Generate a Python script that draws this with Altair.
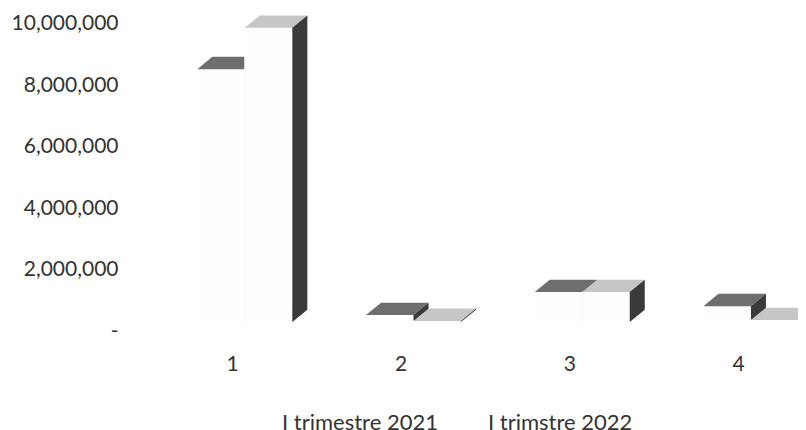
import altair as alt
import pandas as pd

categories = [1, 2, 3, 4]
series_names = ["I trimestre 2021", "I trimstre 2022"]
values_2021 = [8530000, 520000, 1270000, 810000]
values_2022 = [9880000, 330000, 1270000, 360000]
tick_values = [0, 2000000, 4000000, 6000000, 8000000, 10000000]

FLOOR = 290000      # drawn floor of the 3D box on the value axis
DEPTH_Y = 400000    # oblique depth, value units
DEPTH_X = 0.089     # oblique depth, category units
BAR_W = 0.2816
SHIFT = 0.076

FONT = "Lato"
FS = 21
TEXT = "#333333"

fronts, tops, sides = [], [], []
for s, (name, vals) in enumerate(zip(series_names, [values_2021, values_2022])):
    for c, v in zip(categories, vals):
        left = c + SHIFT + (s - 1) * BAR_W
        right = left + BAR_W
        bar = f"{s}-{c}"
        fronts.append(dict(series=name, s=s, x=left, x2=right, y=FLOOR, y2=v))
        tops += [
            dict(s=s, bar=bar, yy=v, xa=left, xb=right),
            dict(s=s, bar=bar, yy=v + DEPTH_Y, xa=left + DEPTH_X, xb=right + DEPTH_X),
        ]
        sides += [
            dict(s=s, bar=bar, xx=right, ya=FLOOR, yb=v),
            dict(s=s, bar=bar, xx=right + DEPTH_X, ya=FLOOR + DEPTH_Y, yb=v + DEPTH_Y),
        ]
fronts, tops, sides = map(pd.DataFrame, (fronts, tops, sides))

xs = alt.Scale(domain=[-0.3278, 4.355], nice=False, zero=False)
ys = alt.Scale(domain=[-3485000, 10521000], nice=False, zero=False)

x_axis = alt.Axis(
    values=categories, format="d", orient="bottom", offset=-85, domain=False,
    ticks=False, grid=False, labelFont=FONT, labelFontSize=FS, labelColor=TEXT,
    labelPadding=0, title=None,
)
y_axis = alt.Axis(
    values=tick_values, orient="left", offset=-110, domain=False, ticks=False,
    grid=False, labelFont=FONT, labelFontSize=FS, labelColor=TEXT, labelPadding=0,
    labelExpr="datum.value === 0 ? '-\u00a0\u00a0' : format(datum.value, ',')", title=None,
)
xq = lambda f, **k: alt.X(f, type="quantitative", scale=xs, axis=x_axis, **k)
yq = lambda f, **k: alt.Y(f, type="quantitative", scale=ys, axis=y_axis, **k)

top_colors = ["#6e6e6e", "#c6c6c6"]
side_colors = ["#3a3a3a", "#3a3a3a"]

layers = []
for s in (0, 1):
    front = alt.Chart(fronts[fronts.s == s]).mark_rect(stroke="#fefefe", strokeWidth=1).encode(
        x=xq("x"),
        x2="x2",
        y=yq("y"),
        y2="y2",
        fill=alt.Fill(
            "series:N",
            scale=alt.Scale(domain=series_names, range=["#fefefe", "#fefefe"]),
            legend=alt.Legend(
                title=None, orient="none", legendX=248, legendY=404, direction="horizontal",
                labelFont=FONT, labelFontSize=22, labelColor=TEXT, symbolSize=30,
                symbolStrokeWidth=0, columnPadding=24, labelOffset=4,
            ),
        ),
    )
    top = alt.Chart(tops[tops.s == s]).mark_area(orient="horizontal", color=top_colors[s]).encode(
        y=yq("yy"),
        x=xq("xa", stack=None),
        x2="xb",
        detail="bar:N",
    )
    side = alt.Chart(sides[sides.s == s]).mark_area(orient="vertical", color=side_colors[s]).encode(
        x=xq("xx"),
        y=yq("ya", stack=None),
        y2="yb",
        detail="bar:N",
    )
    layers += [front, top, side]

chart = (
    alt.layer(*layers)
    .properties(width=790, height=430, padding=0, autosize=alt.AutoSizeParams(type="none"))
    .configure_view(stroke=None)
)
chart.save("out.html", embed_options={"renderer": "svg", "actions": False})
